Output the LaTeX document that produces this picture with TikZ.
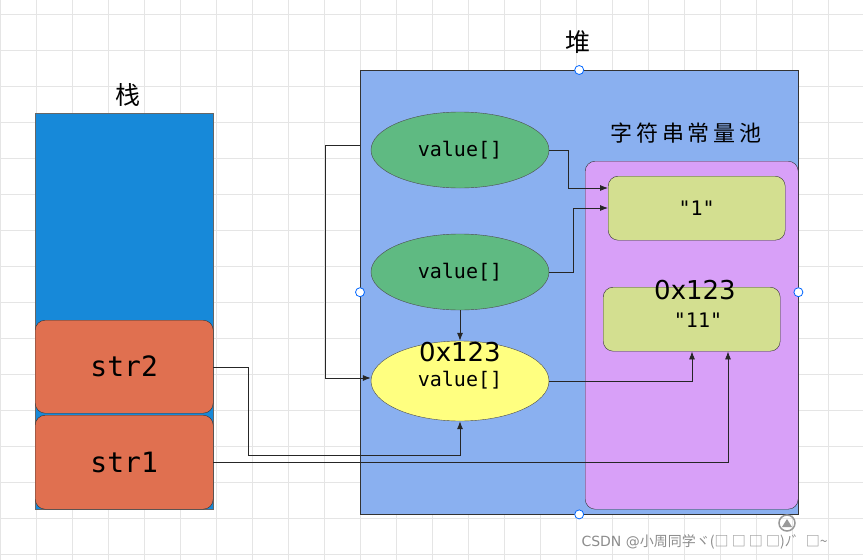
\documentclass[tikz,border=0pt]{standalone}
\usepackage{fontspec}
\setmainfont{DejaVu Sans}
\newfontfamily\cjk{Noto Sans CJK SC}
\newfontfamily\mono{DejaVu Sans Mono}
\usetikzlibrary{shapes.geometric,arrows.meta}
\definecolor{stackblue}{HTML}{1789D9}
\definecolor{strred}{HTML}{E07050}
\definecolor{heapblue}{HTML}{8AB0F0}
\definecolor{poolpink}{HTML}{D8A0F8}
\definecolor{boxolive}{HTML}{D3DF90}
\definecolor{ellgreen}{HTML}{5FBA82}
\definecolor{ellyellow}{HTML}{FFFF80}
\tikzset{
  box/.style={draw=black!80, rounded corners=10pt, inner sep=0pt},
  ell/.style={ellipse, draw=black!70, minimum width=178pt, minimum height=76pt, inner sep=0pt, font=\mono\fontsize{20}{22}\selectfont},
  conn/.style={draw=black!85, line width=.8pt},
  arr/.style={conn, -{Latex[length=8pt,width=6pt]}},
  handle/.style={circle, draw=blue!60!cyan, fill=white, minimum size=9pt, inner sep=0pt, line width=.8pt}
}
\begin{document}
\begin{tikzpicture}[x=1pt,y=-1pt]
\useasboundingbox (0,0) rectangle (863,560);
\fill[white] (0,0) rectangle (863,560);
% grid
\foreach \x in {0,36,...,863} \draw[black!10] (\x,0) -- (\x,560);
\foreach \y in {14,50,...,560} \draw[black!10] (0,\y) -- (863,\y);
% stack
\node[font=\cjk\fontsize{25}{27}\selectfont] (stk) at (128,95) {栈};
\node[draw=black!60, fill=stackblue, minimum width=178pt, minimum height=396pt, inner sep=0pt, anchor=north west] (stack) at (35,113) {};
\node[box, fill=strred, minimum width=178pt, minimum height=93pt, anchor=north west, font=\mono\fontsize{28}{30}\selectfont] (str2) at (35,320) {str2};
\node[box, fill=strred, minimum width=178pt, minimum height=94pt, anchor=north west, font=\mono\fontsize{28}{30}\selectfont] (str1) at (35,415) {str1};
% heap
\node[font=\cjk\fontsize{25}{27}\selectfont] (hp) at (578,42) {堆};
\node[draw=black!80, fill=heapblue, minimum width=438pt, minimum height=444pt, inner sep=0pt, anchor=north west] (heap) at (360,70) {};
\node[font=\cjk\fontsize{22}{24}\selectfont] (pooltitle) at (686,133) {字\,符\,串\,常\,量\,池};
\node[box, fill=poolpink, minimum width=213pt, minimum height=348pt, anchor=north west] (pool) at (585,161) {};
\node[box, fill=boxolive, minimum width=177pt, minimum height=64pt, anchor=north west, font=\mono\fontsize{20}{22}\selectfont] (s1) at (608,176) {"1"};
\node[box, fill=boxolive, minimum width=177pt, minimum height=64pt, anchor=north west] (s11) at (603,287) {};
\node[font=\fontsize{26}{28}\selectfont] (s11addr) at (695,290) {0x123};
\node[font=\mono\fontsize{20}{22}\selectfont] (s11txt) at (698,320) {"11"};
\node[ell, fill=ellgreen] (e1) at (460,150) {value[]};
\node[ell, fill=ellgreen] (e2) at (460,272) {value[]};
\node[ell, fill=ellyellow, minimum height=80pt] (e3) at (460,381) {};
\node[font=\fontsize{26}{28}\selectfont] (e3addr) at (460,352) {0x123};
\node[font=\mono\fontsize{20}{22}\selectfont] (e3txt) at (460,380) {value[]};
% handles
\node[handle] (h1) at (heap.north) {};
\node[handle] (h2) at (heap.west) {};
\node[handle] (h3) at (heap.east) {};
\node[handle] (h4) at (heap.south) {};
% connectors
\coordinate (loopstart) at (360,145);
\draw[arr] (e1.east) -| (568,188) -- (s1.west |- 0,188);
\draw[arr] (e2.east) -| (573,208) -- (s1.west |- 0,208);
\draw[arr] (e2.south) -- (e3.north);
\draw[arr] (loopstart) -| (325,378) -- (e3.west |- 0,378);
\draw[arr] (e3.east) -| (s11.south -| 692,0);
\draw[arr] (str2.east |- 0,367) -| (248,455) -| (e3.south);
\draw[arr] (str1.east |- 0,462) -| (s11.south -| 728,0);
% watermark
\node[circle, draw=black!40, line width=1.5pt, minimum size=16pt, inner sep=0pt] (up) at (787,523) {};
\fill[black!40] (782,527) -- (792,527) -- (787,519) -- cycle;
\node[anchor=west, text=black!45, font=\fontsize{14}{16}\selectfont] (wm) at (578,542) {CSDN @{\cjk 小周同学ヾ(□ □ □ □)ﾉ゛□\textasciitilde}};
\end{tikzpicture}
\end{document}
